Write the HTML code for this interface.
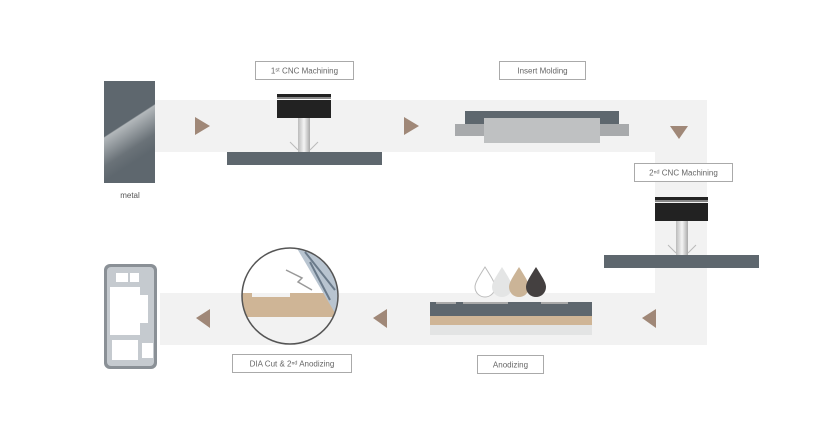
<!DOCTYPE html>
<html><head><meta charset="utf-8"><style>
html,body{margin:0;padding:0;background:#fff;}
svg{display:block;font-family:"Liberation Sans",sans-serif;}
</style></head><body>
<svg width="828" height="435" viewBox="0 0 828 435" xmlns="http://www.w3.org/2000/svg">
<defs>
<linearGradient id="mg" gradientUnits="userSpaceOnUse" x1="112" y1="104" x2="145" y2="155">
<stop offset="0" stop-color="#5e676e"/><stop offset="0.38" stop-color="#5e676e"/>
<stop offset="0.4" stop-color="#b3b8bb"/><stop offset="0.8" stop-color="#6a7278"/><stop offset="1" stop-color="#5e676e"/>
</linearGradient>
<linearGradient id="dr" x1="0" y1="0" x2="1" y2="0">
<stop offset="0" stop-color="#bbb"/><stop offset="0.5" stop-color="#f4f4f4"/><stop offset="1" stop-color="#aaa"/>
</linearGradient>
<clipPath id="cc"><circle cx="290" cy="296" r="48"/></clipPath>
</defs>
<rect x="155" y="100" width="552" height="52" fill="#f2f2f2"/>
<rect x="655" y="100" width="52" height="245" fill="#f2f2f2"/>
<rect x="160" y="293" width="547" height="52" fill="#f2f2f2"/>
<rect x="104" y="81" width="51" height="102" fill="url(#mg)"/>
<text x="130" y="198" font-size="8" fill="#555" text-anchor="middle">metal</text>
<polygon points="195,117 210,126 195,135" fill="#a08878"/>
<polygon points="404,117 419,126 404,135" fill="#a08878"/>
<polygon points="670,126 688,126 679,139" fill="#a08878"/>
<polygon points="656,309 656,328 642,318" fill="#a08878"/>
<polygon points="387,309 387,328 373,318" fill="#a08878"/>
<polygon points="210,309 210,328 196,318" fill="#a08878"/>
<g font-size="8" fill="#666" text-anchor="middle">
<rect x="255.5" y="61.5" width="98" height="18" fill="#fff" stroke="#aaa"/>
<text x="304.5" y="73.5">1ˢᵗ CNC Machining</text>
<rect x="499.5" y="61.5" width="86" height="18" fill="#fff" stroke="#aaa"/>
<text x="542.5" y="73.5">Insert Molding</text>
<rect x="634.5" y="163.5" width="98" height="18" fill="#fff" stroke="#aaa"/>
<text x="683.5" y="175.5">2ⁿᵈ CNC Machining</text>
<rect x="477.5" y="355.5" width="66" height="18" fill="#fff" stroke="#aaa"/>
<text x="510.5" y="367.5">Anodizing</text>
<rect x="232.5" y="354.5" width="119" height="18" fill="#fff" stroke="#aaa"/>
<text x="292" y="366.5">DIA Cut &amp; 2ⁿᵈ Anodizing</text>
</g>
<rect x="277" y="94" width="54" height="3" fill="#222"/>
<rect x="277" y="97" width="54" height="2" fill="#888"/>
<rect x="277" y="100" width="54" height="18" fill="#222"/>
<rect x="298" y="118" width="12" height="34" fill="url(#dr)"/>
<path d="M290 142 L298 150 M318 142 L310 150" stroke="#bbb" stroke-width="1"/>
<rect x="227" y="152" width="155" height="13" fill="#5e676e"/>
<rect x="465" y="111" width="154" height="13" fill="#5e676e"/>
<rect x="455" y="124" width="174" height="12" fill="#a8aaac"/>
<rect x="484" y="118" width="116" height="25" fill="#bfc1c2"/>
<rect x="655" y="197" width="53" height="3" fill="#222"/>
<rect x="655" y="200" width="53" height="2" fill="#888"/>
<rect x="655" y="203" width="53" height="18" fill="#222"/>
<rect x="676" y="221" width="12" height="34" fill="url(#dr)"/>
<path d="M668 245 L676 253 M696 245 L688 253" stroke="#bbb" stroke-width="1"/>
<rect x="604" y="255" width="155" height="13" fill="#5e676e"/>
<path d="M485 267 C478 278 475 283 475 287 A10 10 0 0 0 495 287 C495 283 492 278 485 267Z" fill="#fff" stroke="#bbb"/>
<path d="M502 267 C495 278 492 283 492 287 A10 10 0 0 0 512 287 C512 283 509 278 502 267Z" fill="#e4e5e5"/>
<path d="M519 267 C512 278 509 283 509 287 A10 10 0 0 0 529 287 C529 283 526 278 519 267Z" fill="#cbb497"/>
<path d="M536 267 C529 278 526 283 526 287 A10 10 0 0 0 546 287 C546 283 543 278 536 267Z" fill="#444040"/>
<rect x="430" y="302" width="162" height="14" fill="#5e676e"/>
<rect x="436" y="302" width="20" height="2" fill="#aaa"/>
<rect x="463" y="302" width="45" height="2" fill="#aaa"/>
<rect x="541" y="302" width="27" height="2" fill="#aaa"/>
<rect x="430" y="316" width="162" height="9" fill="#cfb596"/>
<rect x="430" y="325" width="162" height="10" fill="#e3e4e4"/>
<circle cx="290" cy="296" r="48" fill="#fff"/>
<g clip-path="url(#cc)">
<rect x="240" y="293" width="110" height="56" fill="#f2f2f2"/>
<path d="M240 293 H252 V297 H290 V293 H340 V317 H240Z" fill="#cfb596"/>
<polygon points="295,245 345,245 345,330" fill="#b8c4d0"/>
<path d="M305 252 L335 290 M315 250 L340 280 M310 262 L330 300" stroke="#6a7a8a" stroke-width="2"/>
<path d="M286 270 L302 278 L298 282 L312 290" stroke="#999" stroke-width="1.5" fill="none"/>
</g>
<circle cx="290" cy="296" r="48" fill="none" stroke="#555" stroke-width="1.5"/>
<rect x="104" y="264" width="53" height="105" rx="6" fill="#8a9096"/>
<rect x="107" y="267" width="47" height="99" rx="4" fill="#c5cacf"/>
<rect x="110" y="287" width="30" height="48" fill="#fff"/>
<rect x="140" y="295" width="8" height="28" fill="#fff"/>
<rect x="116" y="273" width="12" height="9" fill="#fff"/>
<rect x="130" y="273" width="9" height="9" fill="#fff"/>
<rect x="142" y="343" width="11" height="15" fill="#fff"/>
<rect x="112" y="340" width="26" height="20" fill="#fff"/>
</svg>
</body></html>
